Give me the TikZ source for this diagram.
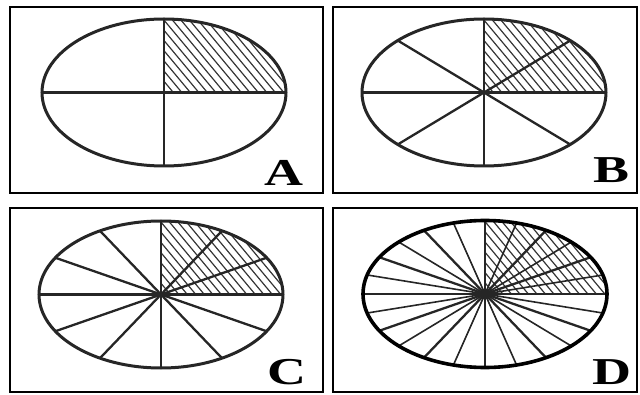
\documentclass[tikz,border=0pt]{standalone}
\usepackage{fontspec}
\setmainfont{Liberation Serif}
\usetikzlibrary{calc}
\tikzset{
  frame/.style={draw=black, line width=2.6pt},
  rim/.style={draw=black!85, line width=3pt},
  spoke/.style={draw=black!85, line width=2.3pt},
  thinspoke/.style={draw=black!85, line width=1.6pt},
  hatch/.style={draw=black!80, line width=1.2pt},
  letter/.style={font=\fontsize{38}{40}\selectfont\bfseries, xscale=1.42, inner sep=0pt},
}

\begin{document}
\begin{tikzpicture}[x=1pt, y=1pt]
  \useasboundingbox (0,0) rectangle (640,394);
  \coordinate (cA) at (164,301.5);
  \coordinate (cB) at (484,301.5);
  \coordinate (cC) at (161,99.5);
  \coordinate (cD) at (485,100);

  \draw[frame] (10,201) rectangle (323,387);
  \draw[frame] (333,201) rectangle (637,387);
  \draw[frame] (10,2) rectangle (323,186);
  \draw[frame] (333,2) rectangle (637,186);

  % shaded quarter in each wheel
  \foreach \c in {cA,cB,cC,cD} {
    \begin{scope}
      \clip (\c) -- ++(122,0) arc[start angle=0, end angle=90, x radius=122, y radius=73.5] -- cycle;
      \foreach \s in {-70,-61.5,...,125} \draw[hatch] ([shift={(\s,85)}]\c) -- ++(80,-96);
    \end{scope}
  }

  \foreach \t in {0,90,...,270} \draw[spoke] (cA) -- ++(\t:122 and 73.5);
  \foreach \t in {0,45,...,315} \draw[spoke] (cB) -- ++(\t:122 and 73.5);
  \foreach \t in {0,30,...,330} \draw[spoke] (cC) -- ++(\t:122 and 73.5);
  \foreach \t in {15,45,...,345} \draw[thinspoke] (cD) -- ++(\t:122 and 73.5);
  \foreach \t in {0,30,...,330} \draw[spoke] (cD) -- ++(\t:122 and 73.5);

  \draw[rim] (cA) ellipse[x radius=122, y radius=73.5];
  \draw[rim] (cB) ellipse[x radius=122, y radius=73.5];
  \draw[rim] (cC) ellipse[x radius=122, y radius=73.5];
  \draw[rim, line width=3.6pt, draw=black] (cD) ellipse[x radius=122, y radius=73.5];

  \node[letter] (lA) at (284,221) {A};
  \node[letter] (lB) at (611,224) {B};
  \node[letter] (lC) at (287,22) {C};
  \node[letter] (lD) at (612,22) {D};
\end{tikzpicture}
\end{document}
